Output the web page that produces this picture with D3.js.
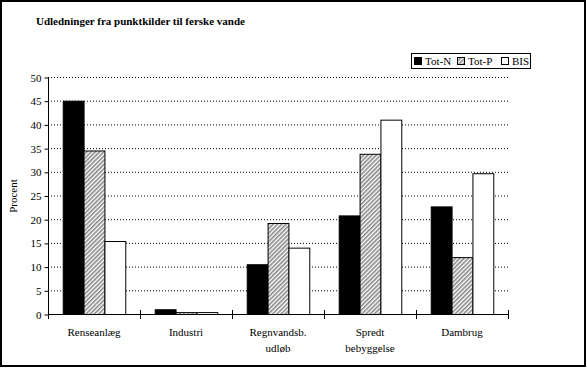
<!DOCTYPE html>
<html>
<head>
<meta charset="utf-8">
<script src="https://cdn.jsdelivr.net/npm/d3@7"></script>
<style>
  body { margin: 0; background: #fff; }
  text { font-family: "Liberation Serif", "Times New Roman", serif; }
</style>
</head>
<body>
<svg id="chart" width="587" height="368"></svg>
<script>
const categories = [["Renseanlæg"], ["Industri"], ["Regnvandsb.", "udløb"], ["Spredt", "bebyggelse"], ["Dambrug"]]
const seriesNames = ["Tot-N", "Tot-P", "BIS"]
const totN = [45, 1, 10.5, 20.8, 22.7]
const totP = [34.5, 0.4, 19.2, 33.8, 12]
const bis = [15.4, 0.4, 14, 41, 29.7]
const yTicks = [0, 5, 10, 15, 20, 25, 30, 35, 40, 45, 50]

const svg = d3.select('#chart')
const plotLeft = 48, plotRight = 508, plotTop = 77, plotBottom = 314

// hatch pattern for Tot-P
const pat = svg.append('defs').append('pattern')
    .attr('id', 'hatch')
    .attr('patternUnits', 'userSpaceOnUse')
    .attr('width', 3).attr('height', 3)
    .attr('patternTransform', 'rotate(45)')
pat.append('rect').attr('width', 3).attr('height', 3).attr('fill', '#fff')
pat.append('rect').attr('width', 1.6).attr('height', 3).attr('fill', '#888')

// frame
svg.append('rect')
    .attr('x', 1).attr('y', 1).attr('width', 584).attr('height', 365)
    .attr('fill', 'none').attr('stroke', '#000').attr('stroke-width', 2)

svg.append('text')
    .attr('x', 36).attr('y', 25)
    .attr('font-size', 11).attr('font-weight', 'bold')
    .text('Udledninger fra punktkilder til ferske vande')

const x = d3.scaleBand()
    .domain(d3.range(categories.length))
    .range([plotLeft, plotRight])
    .paddingInner(0.32).paddingOuter(0.16)
const xs = d3.scaleBand().domain(seriesNames).range([0, x.bandwidth()])
const y = d3.scaleLinear().domain([0, 50]).range([plotBottom, plotTop])

// gridlines
svg.append('g').selectAll('line')
    .data(yTicks.slice(1))
    .join('line')
    .attr('x1', plotLeft).attr('x2', plotRight)
    .attr('y1', d => y(d) + 0.5).attr('y2', d => y(d) + 0.5)
    .attr('stroke', '#000').attr('stroke-dasharray', '1,2')

const fills = { 'Tot-N': '#000', 'Tot-P': 'url(#hatch)', 'BIS': '#fff' }
const series = [totN, totP, bis]

series.forEach((vals, si) => {
    const name = seriesNames[si]
    svg.append('g').selectAll('rect')
        .data(vals)
        .join('rect')
        .attr('x', (d, i) => x(i) + xs(name) + 0.5)
        .attr('y', d => y(d) + 0.5)
        .attr('width', xs.bandwidth())
        .attr('height', d => plotBottom - y(d))
        .attr('fill', fills[name])
        .attr('stroke', '#000').attr('stroke-width', 1)
})

// y axis
const yAxis = d3.axisLeft(y).tickValues(yTicks).tickSize(4).tickPadding(3)
const ya = svg.append('g')
    .attr('transform', `translate(${plotLeft + 0.5},0.5)`)
    .call(yAxis)
ya.selectAll('text').attr('font-size', 11).attr('font-family', '"Liberation Serif", serif').attr('fill', '#000')
ya.select('.domain').attr('d', `M0,${plotTop}V${plotBottom}`)

// x axis line with cross ticks at category borders
const xBounds = d3.range(categories.length + 1)
const xPos = d3.scaleLinear().domain([0, categories.length]).range([plotLeft, plotRight])
svg.append('line')
    .attr('x1', plotLeft).attr('x2', plotRight)
    .attr('y1', plotBottom + 0.5).attr('y2', plotBottom + 0.5)
    .attr('stroke', '#000')
svg.append('g').selectAll('line')
    .data(xBounds)
    .join('line')
    .attr('x1', d => Math.round(xPos(d)) + 0.5).attr('x2', d => Math.round(xPos(d)) + 0.5)
    .attr('y1', plotBottom - 4).attr('y2', plotBottom + 5)
    .attr('stroke', '#000')

// category labels
const lab = svg.append('g').selectAll('text')
    .data(categories)
    .join('text')
    .attr('x', (d, i) => x(i) + x.bandwidth() / 2)
    .attr('y', 336)
    .attr('text-anchor', 'middle')
    .attr('font-size', 11)
lab.selectAll('tspan')
    .data(d => d)
    .join('tspan')
    .attr('x', function () { return this.parentNode.getAttribute('x') })
    .attr('dy', (d, i) => i === 0 ? 0 : 16)
    .text(d => d)

// y label
svg.append('text')
    .attr('transform', 'translate(17,196) rotate(-90)')
    .attr('text-anchor', 'middle')
    .attr('font-size', 11)
    .text('Procent')

// legend
const lg = svg.append('g')
lg.append('rect')
    .attr('x', 411.5).attr('y', 53.5).attr('width', 119).attr('height', 15)
    .attr('fill', '#fff').attr('stroke', '#000')
const legX = [414, 457, 501]
seriesNames.forEach((name, i) => {
    lg.append('rect')
        .attr('x', legX[i] + 0.5).attr('y', 57.5).attr('width', 7).attr('height', 7)
        .attr('fill', fills[name]).attr('stroke', '#000')
    lg.append('text')
        .attr('x', legX[i] + 11).attr('y', 65)
        .attr('font-size', 11)
        .text(name)
})
</script>
</body>
</html>
